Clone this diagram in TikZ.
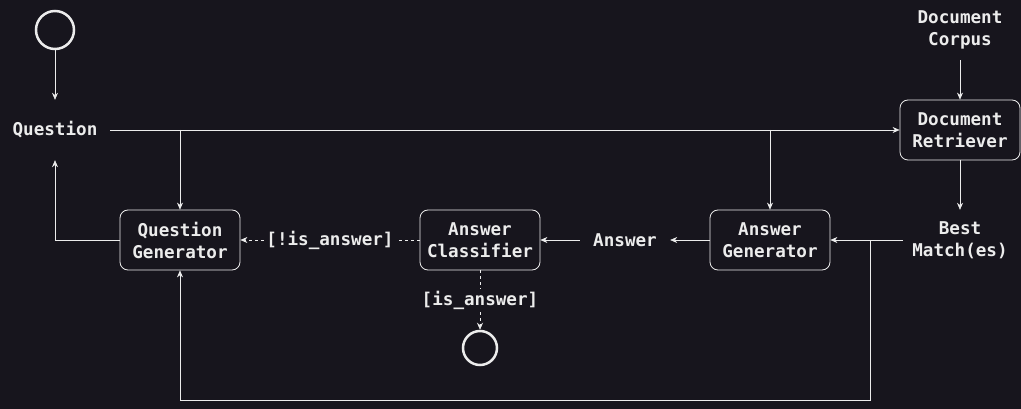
\documentclass[tikz,border=0pt]{standalone}
\usepackage{fontspec}
\setmonofont{DejaVu Sans Mono}
\usetikzlibrary{arrows.meta,calc,positioning}
\definecolor{bg}{RGB}{23,21,29}
\definecolor{fg}{RGB}{236,236,236}

\begin{document}
\begin{tikzpicture}[>={Stealth[length=7pt,width=6pt]},x=1pt,y=-1pt]
    \tikzstyle{label}=[text=fg,font=\ttfamily\bfseries\fontsize{17.6}{22}\selectfont,align=center]
    \tikzstyle{proc}=[label,draw=fg,rounded corners=8pt,thick,minimum width=120pt,minimum height=60pt,inner sep=0pt]
    \tikzstyle{txt}=[label,minimum height=60pt,inner sep=0pt]
    \tikzstyle{terminal}=[circle,draw=fg,line width=2.5pt,inner sep=0pt]
    \tikzstyle{flow}=[draw=fg,semithick,->]
    \fill[bg] (0,0) rectangle (1021,409);
    \useasboundingbox (0,0) rectangle (1021,409);
    \node[terminal,minimum size=38pt] (start) at (55,30) {};
    \node[txt,minimum width=110pt] (question) at (55,130) {Question};
    \node[proc] (qgen) at (180,240) {Question\\Generator};
    \node[proc] (aclass) at (480,240) {Answer\\Classifier};
    \node[txt,minimum width=90pt] (answer) at (625,240) {Answer};
    \node[proc] (agen) at (770,240) {Answer\\Generator};
    \node[txt,minimum width=114pt] (corpus) at (960,30) {Document\\Corpus};
    \node[proc] (retriever) at (960,130) {Document\\Retriever};
    \node[txt,minimum width=114pt] (best) at (960,240) {Best\\Match(es)};
    \node[terminal,minimum size=34pt] (endst) at (480,348) {};
    \coordinate (qsplit) at (180,130);
    \coordinate (asplit) at (770,130);
    \coordinate (bsplit) at (870,240);
    \coordinate (bcorner) at (870,400);
    \draw[flow] (start) -- (question);
    \draw[flow] (question.east) -- (retriever.west);
    \draw[flow] (qsplit) -- (qgen.north);
    \draw[flow] (asplit) -- (agen.north);
    \draw[flow] (corpus) -- (retriever);
    \draw[flow] (retriever) -- (best);
    \draw[flow] (best.west) -- (agen.east);
    \draw[flow] (bsplit) -- (bcorner) -| (qgen.south);
    \draw[flow] (agen) -- (answer);
    \draw[flow] (answer) -- (aclass);
    \draw[flow,dash pattern=on 3pt off 3pt] (aclass) -- node[label,fill=bg,inner sep=2pt] {[!is\_answer]} (qgen);
    \draw[flow,dash pattern=on 3pt off 3pt] (aclass) -- node[label,fill=bg,inner sep=2pt] {[is\_answer]} (endst);
    \draw[flow] (qgen.west) -| (question.south);
  \end{tikzpicture}
\end{document}
